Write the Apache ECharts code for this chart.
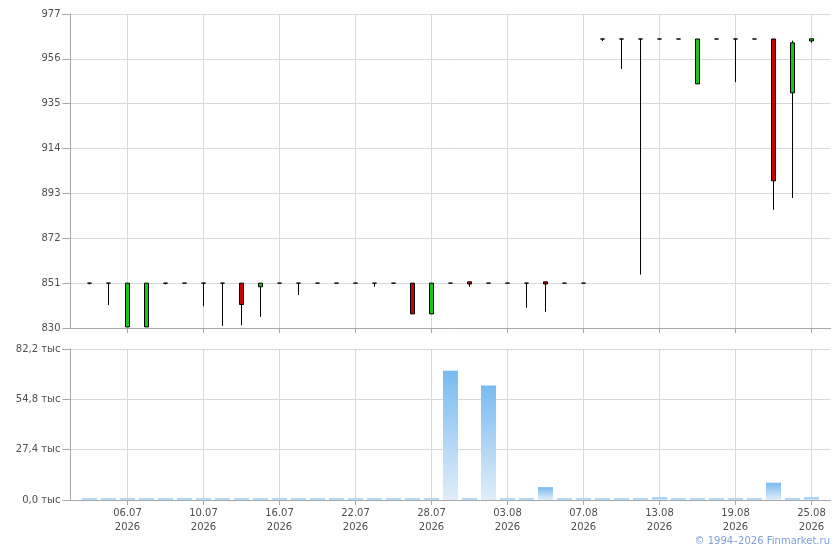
<!DOCTYPE html>
<html>
<head>
<meta charset="utf-8">
<title>Котировки</title>
<script src="https://cdn.jsdelivr.net/npm/echarts@6/dist/echarts.min.js"></script>
<style>
    html, body { margin: 0; padding: 0; background: #fff; }
    #chart { width: 840px; height: 550px; }
</style>
</head>
<body>
<div id="chart"></div>
<script>
// торговые дни, первый и последний слот пустые
var dates = ['01.07', '02.07', '03.07', '06.07', '07.07', '08.07', '09.07', '10.07', '13.07', '14.07',
    '15.07', '16.07', '17.07', '20.07', '21.07', '22.07', '23.07', '24.07', '27.07', '28.07',
    '29.07', '30.07', '31.07', '03.08', '04.08', '05.08', '06.08', '07.08', '10.08', '11.08',
    '12.08', '13.08', '14.08', '17.08', '18.08', '19.08', '20.08', '21.08', '24.08', '25.08', '26.08'];
var year = '2026';

var open = [null, 851, 851, 830.5, 830.5, 851, 851, 851, 851, 851,
    849.3, 851, 851, 851, 851, 851, 851, 851, 851, 836.6,
    851, 851.6, 851, 851, 851, 851.6, 851, 851, 965.3, 965.3,
    965.3, 965.3, 965.3, 944.3, 965.3, 965.3, 965.3, 965.3, 940.1, 964.4, null];
var close = [null, 851, 851, 851, 851, 851, 851, 851, 851, 841,
    851, 851, 851, 851, 851, 851, 851, 851, 836.6, 851,
    851, 850.6, 851, 851, 851, 850.6, 851, 851, 965.3, 965.3,
    965.3, 965.3, 965.3, 965.3, 965.3, 965.3, 965.3, 898.9, 963.5, 965.4, null];
var low = [null, 850.4, 840.7, 830.5, 830.5, 850.4, 851, 840.2, 831, 831.3,
    835.2, 851, 845.4, 851, 851, 851, 849.3, 851, 836.6, 836.6,
    851, 849.3, 851, 851, 839.5, 837.6, 851, 851, 964.3, 951.3,
    855, 965.3, 965.3, 944.3, 965.3, 945.1, 965.3, 885.3, 890.9, 963.5, null];
var high = [null, 851, 851, 851, 851, 851, 851, 851, 851, 851,
    851, 851, 851, 851, 851, 851, 851, 851, 851, 851,
    851, 851.6, 851, 851, 851, 851.6, 851, 851, 965.3, 965.3,
    965.3, 965.3, 965.3, 965.3, 965.3, 965.3, 965.3, 965.3, 964.5, 965.4, null];
var volume = [null, 900, 900, 900, 900, 900, 900, 900, 900, 900,
    900, 900, 900, 900, 900, 900, 900, 900, 900, 900,
    70400, 900, 62300, 900, 900, 7000, 900, 900, 900, 900,
    900, 1400, 900, 900, 900, 900, 900, 9400, 900, 1400, null];

var priceTicks = { min: 830, max: 977, step: 21 };
var volTicks = { min: 0, max: 82200, step: 27400 };

var candles = dates.map(function (d, i) {
    return open[i] == null ? '-' : [open[i], close[i], low[i], high[i]];
});
var vols = volume.map(function (v) { return v == null ? '-' : v; });

// подписи через каждые 4 торговых дня, начиная с 06.07
function everyFourth(i) { return i >= 3 && (i - 3) % 4 === 0; }

var gridColor = '#d6dadd';
var axisColor = '#a3a7ae';
var textColor = '#4f4f4f';
var font = 'DejaVu Sans';

var myChart = echarts.init(document.getElementById('chart'));

var option = {
    animation: false,
    grid: [
        { left: 70.5, right: 9.5, top: 14, height: 314 },
        { left: 70.5, right: 9.5, top: 349, height: 151 }
    ],
    xAxis: [
        {
            type: 'category', gridIndex: 0, data: dates, boundaryGap: false,
            axisLine: { lineStyle: { color: axisColor } },
            axisTick: { interval: everyFourth, length: 5, lineStyle: { color: axisColor } },
            axisLabel: { show: false },
            splitLine: { show: true, interval: everyFourth, lineStyle: { color: gridColor } }
        },
        {
            type: 'category', gridIndex: 1, data: dates, boundaryGap: false,
            axisLine: { lineStyle: { color: axisColor } },
            axisTick: { interval: everyFourth, length: 5, lineStyle: { color: axisColor } },
            axisLabel: {
                interval: everyFourth, color: textColor, fontFamily: font, fontSize: 10,
                lineHeight: 14, margin: 6,
                formatter: function (v) { return v + '\n' + year; }
            },
            splitLine: { show: true, interval: everyFourth, lineStyle: { color: gridColor } }
        }
    ],
    yAxis: [
        {
            type: 'value', gridIndex: 0, scale: true,
            min: priceTicks.min, max: priceTicks.max, interval: priceTicks.step,
            axisLine: { show: true, lineStyle: { color: axisColor } },
            axisTick: { show: true, length: 8, lineStyle: { color: axisColor } },
            axisLabel: { color: textColor, fontFamily: font, fontSize: 10, margin: 10 },
            splitLine: { lineStyle: { color: gridColor } }
        },
        {
            type: 'value', gridIndex: 1,
            min: volTicks.min, max: volTicks.max, interval: volTicks.step,
            axisLine: { show: true, lineStyle: { color: axisColor } },
            axisTick: { show: true, length: 8, lineStyle: { color: axisColor } },
            axisLabel: {
                color: textColor, fontFamily: font, fontSize: 10, margin: 10,
                formatter: function (v) { return (v / 1000).toFixed(1).replace('.', ',') + ' тыс'; }
            },
            splitLine: { lineStyle: { color: gridColor } }
        }
    ],
    series: [
        {
            name: 'Цена', type: 'candlestick', xAxisIndex: 0, yAxisIndex: 0,
            data: candles, barWidth: 4,
            itemStyle: {
                color: '#14c814', color0: '#cc0000',
                borderColor: '#000', borderColor0: '#000', borderColorDoji: '#000',
                borderWidth: 1
            }
        },
        {
            name: 'Объём', type: 'bar', xAxisIndex: 1, yAxisIndex: 1,
            data: vols, barWidth: 15,
            itemStyle: {
                color: new echarts.graphic.LinearGradient(0, 0, 0, 1, [
                    { offset: 0, color: '#78bbf1' },
                    { offset: 1, color: '#e1edf9' }
                ])
            }
        }
    ],
    graphic: [
        {
            type: 'text', right: 10, top: 536,
            style: { text: '© 1994–2026 Finmarket.ru', fill: '#7d9ee2', font: '10px "DejaVu Sans"' }
        }
    ]
};

myChart.setOption(option);
</script>
</body>
</html>
